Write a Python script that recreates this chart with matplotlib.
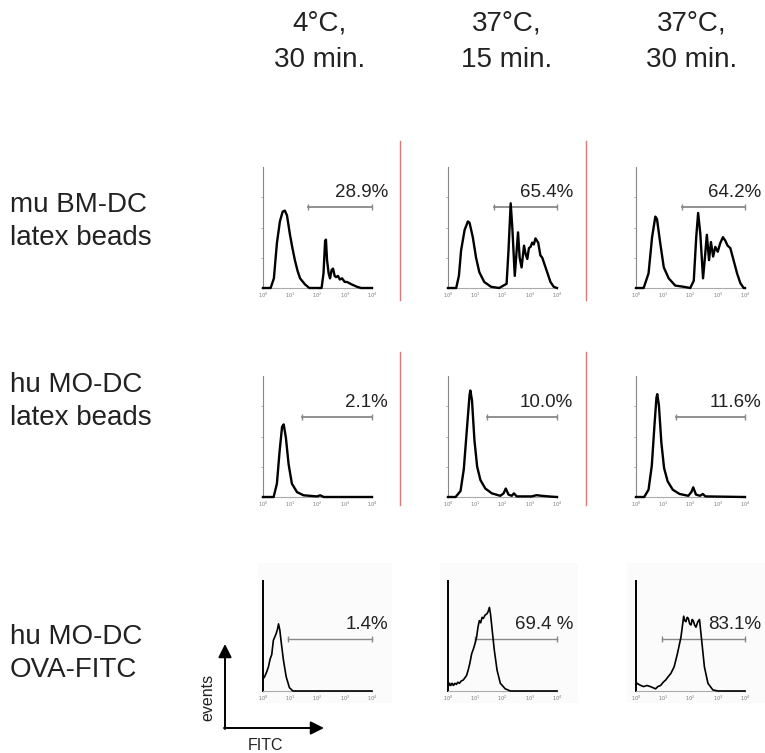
import matplotlib.pyplot as plt
from matplotlib.patches import Rectangle

plt.rcParams['font.family'] = ['Liberation Sans', 'DejaVu Sans']

W, H = 765, 753

col_titles = [("4°C,", "30 min."), ("37°C,", "15 min."), ("37°C,", "30 min.")]
row_titles = [("mu BM-DC", "latex beads"), ("hu MO-DC", "latex beads"), ("hu MO-DC", "OVA-FITC")]

# histogram traces: (log10 FITC, relative events)
r1c1 = [(0.0, 0.0), (0.28, 0.0), (0.4, 0.08), (0.51, 0.37), (0.62, 0.55), (0.72, 0.63),
        (0.8, 0.64), (0.88, 0.6), (0.99, 0.44), (1.08, 0.33), (1.17, 0.23), (1.27, 0.14),
        (1.36, 0.08), (1.54, 0.03), (1.7, 0.0), (2.15, 0.0), (2.22, 0.12), (2.28, 0.39),
        (2.31, 0.4), (2.35, 0.23), (2.41, 0.12), (2.46, 0.08), (2.52, 0.15), (2.57, 0.16),
        (2.63, 0.1), (2.68, 0.09), (2.75, 0.1), (2.82, 0.07), (2.9, 0.08), (3.0, 0.05),
        (3.08, 0.05), (3.25, 0.03), (3.45, 0.01), (3.6, 0.0), (4.0, 0.0)]
r1c2 = [(0.0, 0.0), (0.3, 0.0), (0.4, 0.1), (0.48, 0.31), (0.61, 0.48), (0.73, 0.55),
        (0.79, 0.54), (0.91, 0.42), (1.03, 0.25), (1.15, 0.13), (1.33, 0.05), (1.58, 0.01),
        (1.88, 0.0), (2.15, 0.035), (2.22, 0.31), (2.3, 0.7), (2.36, 0.5), (2.45, 0.1),
        (2.52, 0.31), (2.57, 0.46), (2.63, 0.25), (2.7, 0.17), (2.79, 0.35), (2.85, 0.28),
        (2.91, 0.24), (2.97, 0.33), (3.03, 0.34), (3.09, 0.375), (3.15, 0.36), (3.21, 0.41),
        (3.31, 0.375), (3.39, 0.27), (3.46, 0.25), (3.52, 0.21), (3.64, 0.13), (3.76, 0.05),
        (3.88, 0.01), (4.0, 0.0)]
r1c3 = [(0.0, 0.0), (0.28, 0.0), (0.46, 0.12), (0.59, 0.42), (0.71, 0.59), (0.77, 0.57),
        (0.89, 0.37), (1.02, 0.17), (1.2, 0.08), (1.44, 0.02), (1.75, 0.01), (1.99, 0.0),
        (2.12, 0.06), (2.21, 0.42), (2.28, 0.62), (2.36, 0.45), (2.46, 0.08), (2.54, 0.28),
        (2.6, 0.44), (2.68, 0.23), (2.75, 0.38), (2.83, 0.26), (2.91, 0.34), (3.0, 0.3),
        (3.09, 0.37), (3.19, 0.42), (3.28, 0.39), (3.36, 0.35), (3.46, 0.33), (3.58, 0.23),
        (3.71, 0.12), (3.83, 0.04), (3.95, 0.0), (4.0, 0.0)]
r2c1 = [(0.0, 0.0), (0.39, 0.0), (0.51, 0.11), (0.61, 0.38), (0.7, 0.58), (0.76, 0.6),
        (0.84, 0.49), (0.94, 0.27), (1.06, 0.11), (1.25, 0.04), (1.49, 0.014), (1.98, 0.005),
        (2.1, 0.014), (2.23, 0.0), (4.0, 0.0)]
r2c2 = [(0.0, 0.0), (0.28, 0.0), (0.46, 0.05), (0.58, 0.23), (0.7, 0.58), (0.79, 0.84),
        (0.82, 0.88), (0.88, 0.8), (0.97, 0.47), (1.07, 0.25), (1.19, 0.14), (1.37, 0.07),
        (1.61, 0.03), (1.92, 0.01), (2.04, 0.03), (2.12, 0.07), (2.22, 0.02), (2.34, 0.01),
        (2.42, 0.03), (2.52, 0.005), (3.07, 0.005), (3.25, 0.015), (3.43, 0.01), (3.79, 0.003),
        (4.0, 0.0)]
r2c3 = [(0.0, 0.0), (0.3, 0.0), (0.46, 0.06), (0.58, 0.26), (0.68, 0.6), (0.75, 0.82),
        (0.78, 0.85), (0.84, 0.76), (0.93, 0.45), (1.03, 0.24), (1.16, 0.13), (1.35, 0.06),
        (1.6, 0.025), (1.92, 0.01), (2.03, 0.04), (2.1, 0.08), (2.2, 0.02), (2.35, 0.01),
        (2.45, 0.025), (2.55, 0.005), (4.0, 0.0)]
r3c1 = [(0.0, 0.11), (0.06, 0.13), (0.13, 0.17), (0.2, 0.22), (0.26, 0.29), (0.32, 0.33),
        (0.38, 0.46), (0.43, 0.49), (0.48, 0.52), (0.53, 0.56), (0.57, 0.61), (0.62, 0.55),
        (0.66, 0.46), (0.75, 0.28), (0.85, 0.13), (0.97, 0.03), (1.1, 0.0), (4.0, 0.0)]
r3c2 = [(0.0, 0.07), (0.03, 0.05), (0.06, 0.07), (0.1, 0.05), (0.15, 0.07), (0.2, 0.05),
        (0.25, 0.07), (0.31, 0.06), (0.36, 0.08), (0.42, 0.07), (0.48, 0.09), (0.56, 0.1),
        (0.62, 0.12), (0.68, 0.14), (0.74, 0.19), (0.8, 0.25), (0.87, 0.34), (0.93, 0.38),
        (0.99, 0.43), (1.05, 0.49), (1.1, 0.58), (1.15, 0.64), (1.2, 0.62), (1.25, 0.67),
        (1.3, 0.66), (1.36, 0.69), (1.42, 0.7), (1.47, 0.72), (1.52, 0.76), (1.56, 0.7),
        (1.61, 0.58), (1.7, 0.37), (1.8, 0.19), (1.92, 0.07), (2.1, 0.02), (2.29, 0.0),
        (4.0, 0.0)]
r3c3 = [(0.0, 0.06), (0.05, 0.07), (0.1, 0.06), (0.18, 0.05), (0.28, 0.04), (0.4, 0.05),
        (0.53, 0.04), (0.62, 0.03), (0.72, 0.02), (0.8, 0.04), (0.9, 0.05), (1.0, 0.08),
        (1.09, 0.1), (1.18, 0.13), (1.28, 0.16), (1.4, 0.22), (1.52, 0.34), (1.65, 0.49),
        (1.75, 0.68), (1.79, 0.64), (1.83, 0.63), (1.88, 0.67), (1.92, 0.66), (1.97, 0.61),
        (2.02, 0.6), (2.06, 0.65), (2.1, 0.64), (2.15, 0.6), (2.2, 0.58), (2.27, 0.63),
        (2.33, 0.65), (2.41, 0.46), (2.51, 0.22), (2.64, 0.07), (2.82, 0.01), (3.01, 0.0),
        (4.0, 0.0)]
traces = [[r1c1, r1c2, r1c3], [r2c1, r2c2, r2c3], [r3c1, r3c2, r3c3]]

# gated fraction, gate start (log10) and gate height
pct_labels = [["28.9%", "65.4%", "64.2%"],
              ["2.1%", "10.0%", "11.6%"],
              ["1.4%", "69.4 %", "83.1%"]]
gate_start = [[1.65, 1.67, 1.69],
              [1.43, 1.42, 1.47],
              [0.92, 0.98, 0.95]]
gate_level = [0.67, 0.66, 0.47]

row_top = [167, 376, 581]
row_h = [121, 121, 110]
col_left = [263, 448, 636]
col_w = 109

fig = plt.figure(figsize=(W / 100, H / 100), dpi=100)

# full-figure layer in pixel units for text, arrows, separators
bg = fig.add_axes([0, 0, 1, 1])
bg.set_xlim(0, W)
bg.set_ylim(H, 0)
bg.axis('off')

for (l1, l2), xc in zip(col_titles, [320, 507, 692]):
    bg.text(xc, 23, l1, ha='center', va='center', fontsize=20, color='#222222')
    bg.text(xc, 60, l2, ha='center', va='center', fontsize=20, color='#222222')

for (l1, l2), yc in zip(row_titles, [205, 385, 637]):
    bg.text(10, yc, l1, ha='left', va='center', fontsize=20, color='#222222')
    bg.text(10, yc + 33, l2, ha='left', va='center', fontsize=20, color='#222222')

# faint backing for the OVA-FITC scans
for x0, x1 in [(258, 392), (440, 578), (627, 765)]:
    bg.add_patch(Rectangle((x0, 563), x1 - x0, 140, facecolor='#fbfbfb', edgecolor='none'))

# red separators between the latex bead panels
for xs in [400, 586]:
    bg.plot([xs, xs], [141, 300], color='#f07070', lw=1)
    bg.plot([xs, xs], [352, 505], color='#f07070', lw=1)

# axis legend arrows
bg.annotate('', xy=(225, 644), xytext=(225, 729),
            arrowprops=dict(arrowstyle='-|>', lw=1.4, color='black', mutation_scale=20, shrinkA=0, shrinkB=0))
bg.annotate('', xy=(324, 728), xytext=(224, 728),
            arrowprops=dict(arrowstyle='-|>', lw=1.4, color='black', mutation_scale=20, shrinkA=0, shrinkB=0))
bg.text(208, 697, "events", rotation=90, ha='center', va='center', fontsize=11.5, color='#222222')
bg.text(248, 745, "FITC", ha='left', va='center', fontsize=11.5, color='#222222')

for r in range(3):
    for c in range(3):
        ax = fig.add_axes([col_left[c] / W, 1 - (row_top[r] + row_h[r]) / H, col_w / W, row_h[r] / H])
        ax.set_facecolor('none')
        ax.set_xlim(0, 4)
        ax.set_ylim(0, 1)
        xs = [p[0] for p in traces[r][c]]
        ys = [p[1] for p in traces[r][c]]
        ax.plot(xs, ys, color='black', lw=1.7 if r < 2 else 1.2, clip_on=False, zorder=3)

        # gate bar with end caps
        g0 = gate_start[r][c]
        ax.plot([g0, 4], [gate_level[r]] * 2, color='#888888', lw=1.3 if r < 2 else 1.0,
                marker='|', markersize=4, markeredgewidth=1.0, clip_on=False)
        ax.annotate(pct_labels[r][c], xy=(4, gate_level[r]), xytext=(11.5, 10.5),
                    textcoords='offset points', ha='right', va='center', fontsize=13.5, color='#222222')

        for side in ['top', 'right']:
            ax.spines[side].set_visible(False)
        if r < 2:
            ax.spines['left'].set_color('#888888')
            ax.spines['left'].set_linewidth(0.8)
            ax.set_yticks([0, 0.25, 0.5, 0.75])
            ax.tick_params(axis='y', length=1.5, width=0.5, color='#888888')
        else:
            ax.spines['left'].set_color('black')
            ax.spines['left'].set_linewidth(1.4)
            ax.set_yticks([])
        ax.spines['bottom'].set_color('#aaaaaa')
        ax.spines['bottom'].set_linewidth(0.8)
        ax.set_yticklabels([])
        ax.set_xticks([0, 1, 2, 3, 4])
        ax.set_xticklabels(['$10^{%d}$' % k for k in range(5)], fontsize=3.5, color='#777777')
        ax.tick_params(axis='x', length=1, width=0.4, color='#aaaaaa', pad=1)

fig.savefig("out.png", dpi=100)
